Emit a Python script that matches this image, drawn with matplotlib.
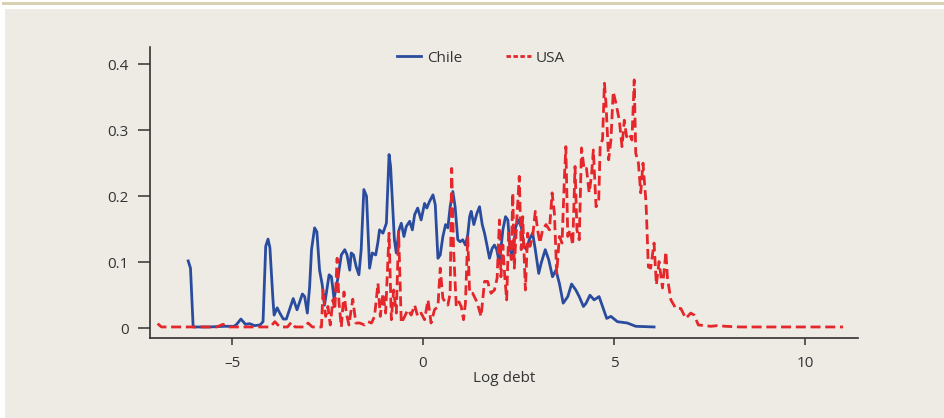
import numpy as np
import matplotlib
matplotlib.use("Agg")
import matplotlib.pyplot as plt
from matplotlib.patches import Rectangle

plt.rcParams['font.family'] = ['Open Sans', 'DejaVu Sans']

# Chile density (log debt, density)
chile_x = [-6.15, -6.09, -6.02, -5.6, -5.2, -4.95, -4.88, -4.77, -4.65, -4.54, -4.41, -4.27, -4.19,
           -4.12, -4.06, -4.01, -3.93, -3.90, -3.82, -3.75, -3.66, -3.58, -3.40, -3.30, -3.16, -3.10,
           -3.03, -2.97, -2.92, -2.84, -2.78, -2.71, -2.64, -2.58, -2.46, -2.40, -2.33, -2.23, -2.14,
           -2.05, -1.99, -1.92, -1.88, -1.82, -1.75, -1.68, -1.62, -1.55, -1.48, -1.40, -1.33, -1.24,
           -1.18, -1.14, -1.05, -0.96, -0.89, -0.85, -0.75, -0.70, -0.63, -0.57, -0.50, -0.44, -0.35,
           -0.28, -0.22, -0.14, -0.05, 0.04, 0.10, 0.17, 0.26, 0.32, 0.39, 0.45, 0.52, 0.59, 0.65,
           0.71, 0.78, 0.84, 0.91, 0.97, 1.04, 1.11, 1.17, 1.22, 1.26, 1.33, 1.41, 1.48, 1.55, 1.61,
           1.68, 1.74, 1.81, 1.87, 1.93, 2.00, 2.09, 2.16, 2.22, 2.28, 2.35, 2.42, 2.49, 2.57, 2.65,
           2.71, 2.78, 2.87, 2.94, 3.03, 3.09, 3.20, 3.29, 3.39, 3.48, 3.57, 3.67, 3.79, 3.89, 4.00,
           4.09, 4.20, 4.27, 4.37, 4.48, 4.61, 4.70, 4.81, 4.92, 5.09, 5.35, 5.57, 6.05]
chile_y = [0.102, 0.091, 0.002, 0.002, 0.003, 0.003, 0.006, 0.014, 0.006, 0.007, 0.004, 0.005, 0.010,
           0.124, 0.135, 0.122, 0.043, 0.020, 0.031, 0.023, 0.014, 0.014, 0.045, 0.028, 0.052, 0.048,
           0.023, 0.063, 0.119, 0.152, 0.146, 0.088, 0.066, 0.035, 0.081, 0.078, 0.045, 0.076, 0.111,
           0.119, 0.111, 0.088, 0.114, 0.111, 0.093, 0.081, 0.119, 0.210, 0.200, 0.091, 0.114, 0.111,
           0.131, 0.149, 0.144, 0.159, 0.263, 0.245, 0.134, 0.114, 0.149, 0.159, 0.139, 0.154, 0.162,
           0.149, 0.172, 0.182, 0.164, 0.189, 0.182, 0.192, 0.202, 0.187, 0.106, 0.111, 0.139, 0.157,
           0.152, 0.184, 0.207, 0.184, 0.134, 0.131, 0.134, 0.126, 0.141, 0.169, 0.177, 0.157, 0.174,
           0.184, 0.157, 0.144, 0.124, 0.106, 0.121, 0.126, 0.119, 0.098, 0.149, 0.169, 0.164, 0.119,
           0.106, 0.152, 0.164, 0.154, 0.124, 0.119, 0.134, 0.144, 0.119, 0.083, 0.098, 0.119, 0.104,
           0.078, 0.088, 0.068, 0.038, 0.048, 0.067, 0.058, 0.048, 0.033, 0.038, 0.050, 0.043, 0.048,
           0.033, 0.015, 0.018, 0.010, 0.008, 0.003, 0.002]

# USA density
usa_x = [-6.95, -6.85, -6.6, -5.4, -5.24, -5.1, -4.0, -3.88, -3.75, -3.55, -3.45, -3.35, -3.1, -3.01,
         -2.9, -2.70, -2.66, -2.62, -2.55, -2.49, -2.43, -2.36, -2.31, -2.25, -2.20, -2.14, -2.07,
         -2.01, -1.94, -1.84, -1.76, -1.66, -1.53, -1.44, -1.35, -1.27, -1.18, -1.12, -1.05, -0.98,
         -0.89, -0.83, -0.77, -0.70, -0.64, -0.57, -0.48, -0.40, -0.31, -0.22, -0.14, -0.05, 0.04,
         0.13, 0.21, 0.30, 0.39, 0.45, 0.52, 0.65, 0.71, 0.75, 0.80, 0.87, 0.94, 1.00, 1.06, 1.11,
         1.17, 1.22, 1.30, 1.41, 1.52, 1.61, 1.69, 1.78, 1.87, 1.94, 2.00, 2.04, 2.09, 2.14, 2.19,
         2.24, 2.31, 2.35, 2.39, 2.45, 2.52, 2.57, 2.61, 2.68, 2.74, 2.80, 2.87, 2.94, 3.00, 3.06,
         3.13, 3.22, 3.31, 3.38, 3.44, 3.50, 3.57, 3.64, 3.70, 3.74, 3.79, 3.85, 3.92, 3.98, 4.03,
         4.09, 4.15, 4.22, 4.28, 4.35, 4.41, 4.46, 4.53, 4.60, 4.64, 4.70, 4.75, 4.79, 4.86, 4.92,
         4.98, 5.05, 5.14, 5.21, 5.27, 5.33, 5.40, 5.47, 5.53, 5.57, 5.64, 5.70, 5.76, 5.84, 5.90,
         5.96, 6.05, 6.11, 6.18, 6.27, 6.36, 6.40, 6.49, 6.62, 6.75, 6.88, 7.01, 7.10, 7.21, 7.40,
         7.53, 7.71, 7.93, 8.3, 11.0]
usa_y = [0.007, 0.002, 0.002, 0.002, 0.006, 0.002, 0.002, 0.010, 0.002, 0.002, 0.009, 0.002, 0.002, 0.008,
         0.002, 0.002, 0.002, 0.058, 0.018, 0.033, 0.005, 0.043, 0.028, 0.106, 0.038, 0.002, 0.055,
         0.023, 0.005, 0.044, 0.008, 0.008, 0.005, 0.010, 0.008, 0.018, 0.068, 0.018, 0.053, 0.023,
         0.144, 0.013, 0.058, 0.023, 0.146, 0.008, 0.018, 0.028, 0.020, 0.035, 0.018, 0.023, 0.013,
         0.043, 0.008, 0.028, 0.033, 0.091, 0.045, 0.035, 0.053, 0.242, 0.119, 0.033, 0.040, 0.033,
         0.013, 0.038, 0.139, 0.053, 0.053, 0.040, 0.018, 0.071, 0.071, 0.053, 0.058, 0.076, 0.164,
         0.078, 0.126, 0.078, 0.043, 0.144, 0.104, 0.205, 0.091, 0.159, 0.230, 0.119, 0.169, 0.058,
         0.144, 0.124, 0.139, 0.177, 0.149, 0.129, 0.149, 0.157, 0.149, 0.205, 0.174, 0.083, 0.139,
         0.129, 0.225, 0.275, 0.139, 0.149, 0.126, 0.245, 0.149, 0.134, 0.273, 0.240, 0.242, 0.205,
         0.230, 0.270, 0.184, 0.192, 0.280, 0.285, 0.371, 0.341, 0.255, 0.285, 0.358, 0.341, 0.315,
         0.275, 0.315, 0.290, 0.295, 0.285, 0.376, 0.265, 0.250, 0.205, 0.250, 0.189, 0.093, 0.091,
         0.129, 0.066, 0.101, 0.061, 0.116, 0.076, 0.043, 0.030, 0.030, 0.015, 0.023, 0.020, 0.005,
         0.004, 0.003, 0.004, 0.003, 0.002, 0.002]

bg = '#eeebe5'
fig = plt.figure(figsize=(9.44, 4.18), dpi=100)
fig.patch.set_facecolor('white')
fig.patches.append(Rectangle((2 / 944, 1 - 4.5 / 418), 1, 2.5 / 418, transform=fig.transFigure,
                             facecolor='#d8d1b2', edgecolor='none', zorder=-10))
fig.patches.append(Rectangle((5 / 944, 0), 1, 1 - 9 / 418, transform=fig.transFigure,
                             facecolor=bg, edgecolor='none', zorder=-10))

ax = fig.add_axes([150 / 944, 1 - 338 / 418, 708 / 944, 291 / 418])
ax.patch.set_alpha(0)

ax.plot(chile_x, chile_y, color='#2a4c9e', lw=2, label='Chile')
ax.plot(usa_x, usa_y, color='#e5262b', lw=2, ls=(0, (3.6, 1.7)), label='USA')

ax.set_xlim(-7.15, 11.39)
ax.set_ylim(-0.0147, 0.4258)
ax.set_xticks([-5, 0, 5, 10])
ax.set_xticklabels(['\u20135', '0', '5', '10'])
ax.set_yticks([0, 0.1, 0.2, 0.3, 0.4])
ax.set_yticklabels(['0', '0.1', '0.2', '0.3', '0.4'])
for s in ['top', 'right']:
    ax.spines[s].set_visible(False)
for s in ['left', 'bottom']:
    ax.spines[s].set_color('#333333')
    ax.spines[s].set_linewidth(1.2)
ax.tick_params(axis='y', length=8.5, width=1.1, pad=7, colors='#333333', labelsize=11)
ax.tick_params(axis='x', length=5, width=1.1, pad=8, colors='#333333', labelsize=11)
ax.set_xlabel('Log debt', fontsize=11, color='#333333', labelpad=0)

leg = ax.legend(loc='center', bbox_to_anchor=(481 / 944, 1 - 58 / 418), bbox_transform=fig.transFigure,
                ncol=2, frameon=False, fontsize=11, handlelength=1.6, columnspacing=2.9,
                handletextpad=0.35, labelcolor='#333333')
leg.get_lines()[1].set_linestyle((0, (1.6, 0.9)))

fig.savefig('out.png', dpi=100, facecolor=fig.get_facecolor())
